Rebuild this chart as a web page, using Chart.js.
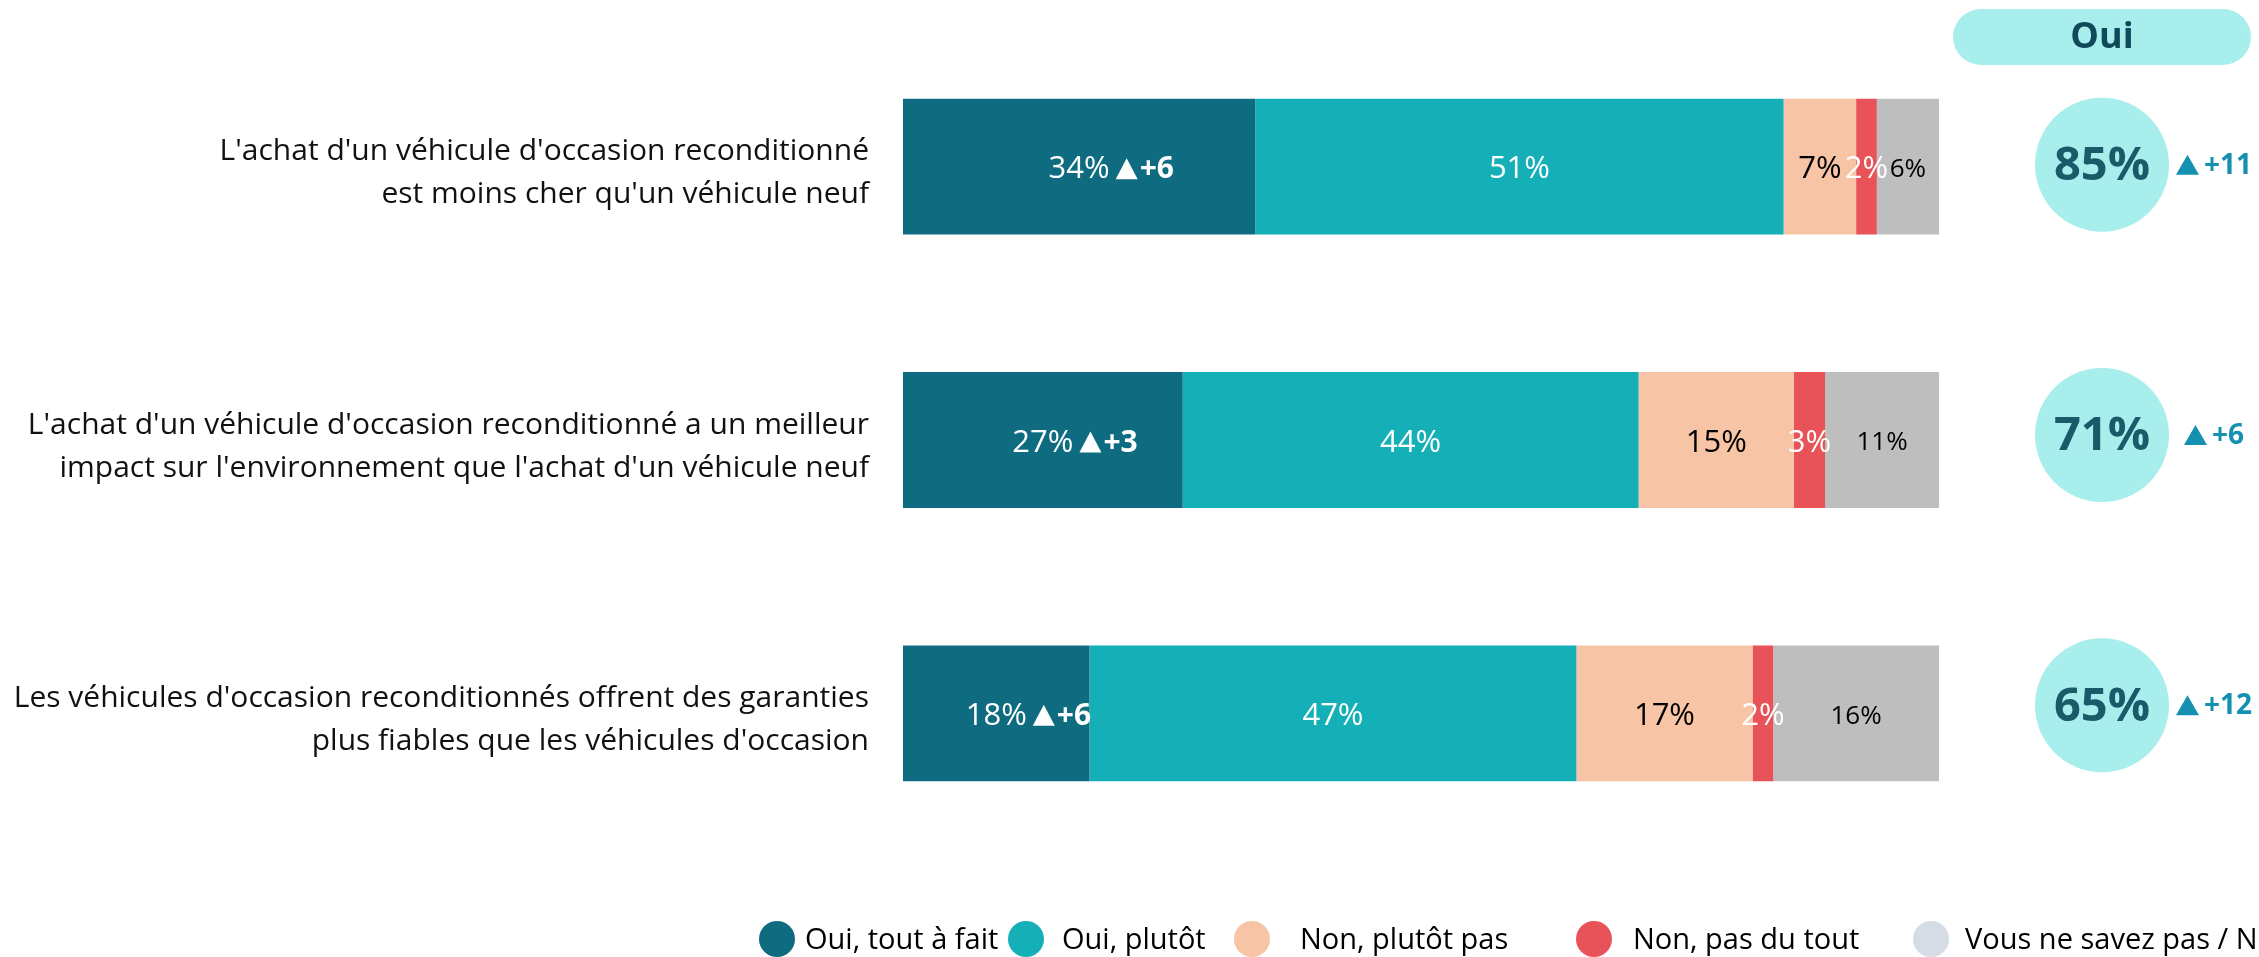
<!DOCTYPE html>
<html><head><meta charset="utf-8">
<script src="https://cdn.jsdelivr.net/npm/chart.js@4"></script>
<style>html,body{margin:0;padding:0;background:#fff;overflow:hidden;} canvas{display:block;}</style>
</head><body>
<canvas id="c" width="2259" height="957"></canvas>
<script>
// ---- data ----
const categories = [
  ["L'achat d'un véhicule d'occasion reconditionné", "est moins cher qu'un véhicule neuf"],
  ["L'achat d'un véhicule d'occasion reconditionné a un meilleur", "impact sur l'environnement que l'achat d'un véhicule neuf"],
  ["Les véhicules d'occasion reconditionnés offrent des garanties", "plus fiables que les véhicules d'occasion"]
];
const seriesNames = ["Oui, tout à fait", "Oui, plutôt", "Non, plutôt pas", "Non, pas du tout", "Vous ne savez pas / NSP"];
const ouiToutAFait = [34, 27, 18];
const ouiPlutot = [51, 44, 47];
const nonPlutotPas = [7, 15, 17];
const nonPasDuTout = [2, 3, 2];
const nsp = [6, 11, 16];
const ouiToutAFaitDelta = [6, 3, 6];
const ouiTotal = [85, 71, 65];
const ouiTotalDelta = [11, 6, 12];
const summaryTitle = "Oui";

// ---- style ----
const FONT = "'Open Sans', 'Noto Sans', sans-serif";
const barColors = ['#0e6b80', '#14afb7', '#f7c4a5', '#e8535a', '#bebebe'];
const legendColors = ['#0e6b80', '#14afb7', '#f7c4a5', '#e8535a', '#d5dce6'];
const labelColors = ['#ffffff', '#ffffff', '#000000', '#ffffff', '#000000'];
const labelSizes = [31, 31, 31, 31, 26];
const seriesData = [ouiToutAFait, ouiPlutot, nonPlutotPas, nonPasDuTout, nsp];

function tri(ctx, x, yc, w, h) {
  ctx.beginPath();
  ctx.moveTo(x, yc + h / 2);
  ctx.lineTo(x + w / 2, yc - h / 2);
  ctx.lineTo(x + w, yc + h / 2);
  ctx.closePath();
  ctx.fill();
}

const labelsPlugin = {
  id: 'segLabels',
  afterDatasetsDraw(chart) {
    const ctx = chart.ctx;
    ctx.save();
    ctx.textBaseline = 'middle';
    chart.data.datasets.forEach((ds, di) => {
      const meta = chart.getDatasetMeta(di);
      meta.data.forEach((bar, i) => {
        const cx = (bar.x + bar.base) / 2;
        const cy = bar.y + 3;
        const txt = ds.data[i] + '%';
        ctx.fillStyle = labelColors[di];
        ctx.font = `400 ${labelSizes[di]}px ${FONT}`;
        ctx.textAlign = 'center';
        ctx.fillText(txt, cx, cy);
        if (di === 0) {
          const w = ctx.measureText(txt).width;
          let x = cx + w / 2 + 6;
          tri(ctx, x, cy - 1, 22, 21);
          x += 24;
          ctx.font = `700 30px ${FONT}`;
          ctx.textAlign = 'left';
          ctx.fillText('+' + ouiToutAFaitDelta[i], x, cy);
        }
      });
    });
    // category labels
    const ys = chart.scales.y;
    ctx.fillStyle = '#111';
    ctx.font = `400 30px ${FONT}`;
    ctx.textAlign = 'right';
    categories.forEach((lines, i) => {
      const y = ys.getPixelForValue(i);
      ctx.fillText(lines[0], 869, y - 15);
      ctx.fillText(lines[1], 869, y + 28);
    });
    ctx.restore();
  }
};

const summaryPlugin = {
  id: 'summary',
  afterDraw(chart) {
    const ctx = chart.ctx;
    const ys = chart.scales.y;
    ctx.save();
    // pill header
    const px1 = 1953, px2 = 2251, py1 = 9, py2 = 65, r = (py2 - py1) / 2;
    ctx.fillStyle = '#a8eeec';
    ctx.beginPath();
    ctx.moveTo(px1 + r, py1);
    ctx.lineTo(px2 - r, py1);
    ctx.arc(px2 - r, py1 + r, r, -Math.PI / 2, Math.PI / 2);
    ctx.lineTo(px1 + r, py2);
    ctx.arc(px1 + r, py1 + r, r, Math.PI / 2, Math.PI * 1.5);
    ctx.closePath();
    ctx.fill();
    ctx.fillStyle = '#0f4a5a';
    ctx.font = `700 36px ${FONT}`;
    ctx.textAlign = 'center';
    ctx.textBaseline = 'middle';
    ctx.fillText(summaryTitle, (px1 + px2) / 2, (py1 + py2) / 2 + 1);

    ouiTotal.forEach((v, i) => {
      const cy = ys.getPixelForValue(i) - 2 - 3 * i;
      const cx = 2102;
      ctx.fillStyle = '#a7eeec';
      ctx.beginPath();
      ctx.arc(cx, cy, 67, 0, Math.PI * 2);
      ctx.fill();
      ctx.fillStyle = '#1b5a69';
      ctx.font = `700 47px ${FONT}`;
      ctx.textAlign = 'center';
      ctx.fillText(v + '%', cx, cy + 2);
      // delta
      ctx.font = `700 28px ${FONT}`;
      const t = '+' + ouiTotalDelta[i];
      const tw = ctx.measureText(t).width;
      const triW = 23, gap = 5;
      const total = triW + gap + tw;
      let x = 2214 - total / 2;
      ctx.fillStyle = '#1590b0';
      tri(ctx, x, cy, triW, 20);
      ctx.textAlign = 'left';
      ctx.fillText(t, x + triW + gap, cy + 1);
    });

    // legend
    const markerX = [777, 1026, 1252, 1594, 1931];
    const textX = [805, 1062, 1300, 1633, 1965];
    const ly = 939;
    ctx.font = `400 29px ${FONT}`;
    ctx.textAlign = 'left';
    seriesNames.forEach((n, i) => {
      ctx.fillStyle = legendColors[i];
      ctx.beginPath();
      ctx.arc(markerX[i], ly, 18, 0, Math.PI * 2);
      ctx.fill();
      ctx.fillStyle = '#000';
      ctx.fillText(n, textX[i], ly + 2);
    });
    ctx.restore();
  }
};

new Chart(document.getElementById('c'), {
  type: 'bar',
  data: {
    labels: categories,
    datasets: seriesData.map((d, i) => ({
      label: seriesNames[i],
      data: d,
      backgroundColor: barColors[i],
      borderWidth: 0,
      barPercentage: 1,
      categoryPercentage: 0.497
    }))
  },
  options: {
    indexAxis: 'y',
    responsive: false,
    animation: false,
    layout: { padding: { left: 903, right: 320, top: 30, bottom: 107 } },
    scales: {
      x: { stacked: true, min: 0, max: 100, display: false },
      y: { stacked: true, display: false }
    },
    plugins: { legend: { display: false }, tooltip: { enabled: false } }
  },
  plugins: [labelsPlugin, summaryPlugin]
});
</script>
</body></html>
